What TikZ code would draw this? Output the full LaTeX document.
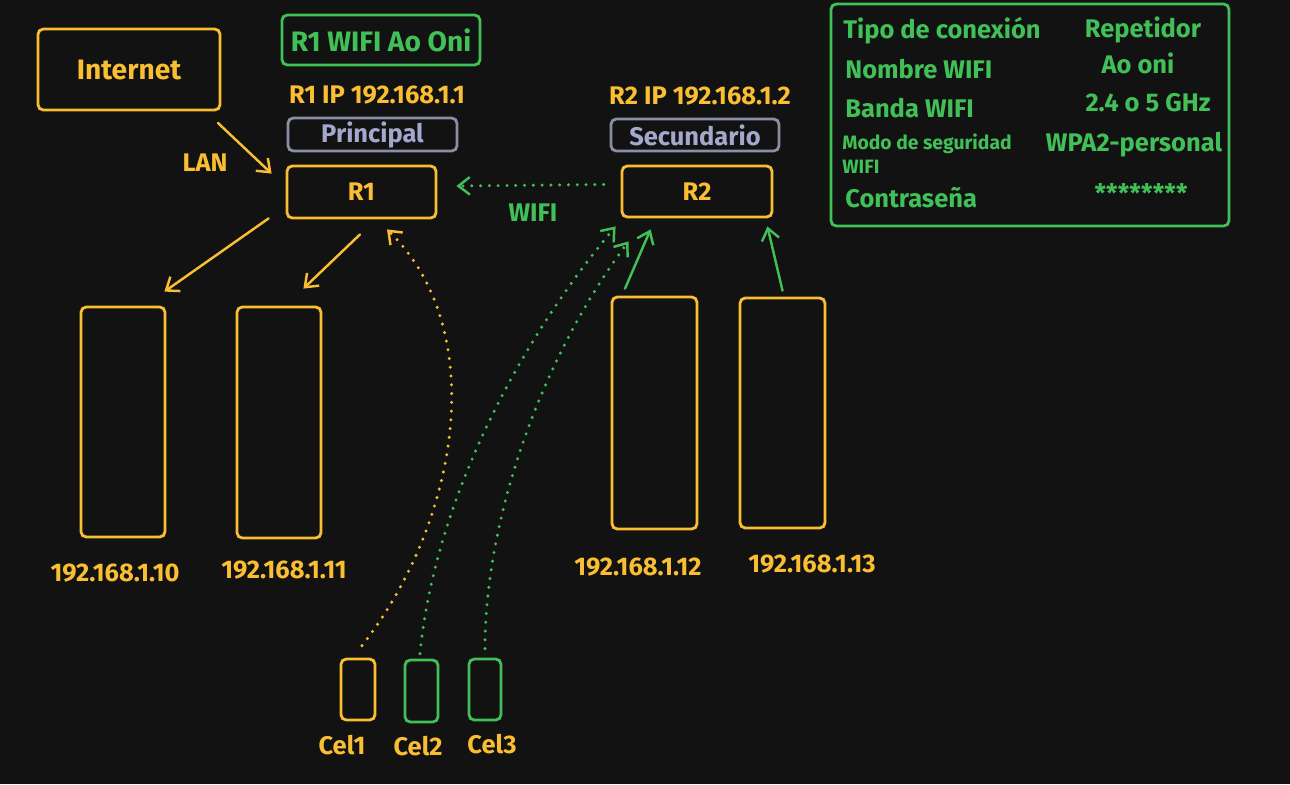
\documentclass[tikz,border=0pt]{standalone}
\usepackage{fontspec}
\setmainfont{Fira Sans}
\usetikzlibrary{arrows.meta}
\definecolor{bg}{HTML}{121212}
\definecolor{ylw}{HTML}{F9BE32}
\definecolor{grn}{HTML}{40C057}
\definecolor{gry}{HTML}{8B8FA6}
\definecolor{gtxt}{HTML}{A3A8CC}

\begin{document}
\begin{tikzpicture}[x=0.2cm,y=0.2cm]
\tikzstyle{every node}+=[inner sep=0pt,font=\fontsize{14.5}{16}\selectfont\bfseries]
\tikzstyle{ybox}=[draw=ylw,line width=1.6pt,rounded corners=3pt,text=ylw]
\tikzstyle{gbox}=[draw=grn,line width=1.6pt,rounded corners=3pt,text=grn]
\tikzstyle{tagbox}=[draw=gry,line width=1.6pt,rounded corners=3pt,text=gtxt]
\tikzstyle{arr}=[line width=1.4pt,line cap=round,-{Straight Barb[length=6.5pt,width=10pt,line width=1.4pt]}]
\tikzstyle{wifiline}=[line width=1.9pt,line cap=round,dash pattern=on 0pt off 5pt,-{Straight Barb[length=6.5pt,width=10pt,line width=1.4pt]}]
\fill [bg] (0,0) rectangle (129,-78.4);
% routers and tags
\node [ybox,minimum width=3.64cm,minimum height=1.62cm] (internet) at (12.9,-6.95) {\fontsize{16}{18}\selectfont Internet};
\node [gbox,minimum width=3.96cm,minimum height=1.0cm] (wifir1) at (38.1,-4.0) {\fontsize{16}{18}\selectfont R1 WIFI Ao Oni};
\node [text=ylw] (ipr1) at (37.7,-9.5) {R1 IP 192.168.1.1};
\node [tagbox,minimum width=3.38cm,minimum height=0.66cm] (principal) at (37.25,-13.45) {Principal};
\node [ybox,minimum width=2.98cm,minimum height=1.04cm] (r1) at (36.15,-19.2) {R1};
\node [text=ylw] (ipr2) at (70.0,-9.6) {R2 IP 192.168.1.2};
\node [tagbox,minimum width=3.36cm,minimum height=0.64cm] (secundario) at (69.5,-13.5) {Secundario};
\node [ybox,minimum width=3.0cm,minimum height=1.02cm] (r2) at (69.7,-19.15) {R2};
% wired hosts
\node [ybox,minimum width=1.68cm,minimum height=4.6cm] (pc10) at (12.3,-42.2) {};
\node [ybox,minimum width=1.68cm,minimum height=4.62cm] (pc11) at (27.9,-42.25) {};
\node [ybox,minimum width=1.7cm,minimum height=4.64cm] (pc12) at (65.45,-41.3) {};
\node [ybox,minimum width=1.7cm,minimum height=4.6cm] (pc13) at (78.25,-41.3) {};
\node [text=ylw] (ip10) at (11.5,-57.3) {192.168.1.10};
\node [text=ylw] (ip11) at (28.4,-57.0) {192.168.1.11};
\node [text=ylw] (ip12) at (63.8,-56.7) {192.168.1.12};
\node [text=ylw] (ip13) at (81.2,-56.4) {192.168.1.13};
% phones
\node [ybox,minimum width=0.68cm,minimum height=1.22cm] (cel1) at (35.8,-68.95) {};
\node [gbox,minimum width=0.66cm,minimum height=1.24cm] (cel2) at (42.15,-69.1) {};
\node [gbox,minimum width=0.64cm,minimum height=1.22cm] (cel3) at (48.5,-68.95) {};
\node [text=ylw] (cel1lbl) at (34.2,-74.5) {Cel1};
\node [text=ylw] (cel2lbl) at (41.8,-74.6) {Cel2};
\node [text=ylw] (cel3lbl) at (49.2,-74.4) {Cel3};
% settings table
\node [gbox,minimum width=7.96cm,minimum height=4.44cm] (tabla) at (103.0,-11.5) {};
\begin{scope}[every node/.append style={text=grn}]
\node [anchor=west] (tipo) at (84.3,-3.1) {Tipo de conexión};
\node [anchor=west] (nombre) at (84.5,-6.9) {Nombre WIFI};
\node [anchor=west] (banda) at (84.5,-10.8) {Banda WIFI};
\node [anchor=west,font=\fontsize{11}{12}\selectfont\bfseries] (modo) at (84.2,-14.4) {Modo de seguridad};
\node [anchor=west,font=\fontsize{11}{12}\selectfont\bfseries] (modo2) at (84.2,-16.7) {WIFI};
\node [anchor=west] (clave) at (84.5,-19.8) {Contraseña};
\node (vtipo) at (114.3,-3.0) {Repetidor};
\node (vnombre) at (113.8,-6.3) {Ao oni};
\node (vbanda) at (114.8,-10.3) {2.4 o 5 GHz};
\node (vmodo) at (113.4,-14.5) {WPA2-personal};
\node (vclave) at (114.1,-19.3) {********};
\end{scope}
% wired links
\draw [arr,ylw] ([shift={(-0.35,-1.15)}]internet.south east) -- ([shift={(-1.4,-0.9)}]r1.north west);
\node [text=ylw] (lan) at (20.5,-16.3) {LAN};
\draw [arr,ylw] ([shift={(-1.7,0.1)}]r1.south west) -- ([shift={(-0.2,1.4)}]pc10.north east);
\draw [arr,ylw] ([shift={(-0.15,-1.5)}]r1.south) -- ([shift={(-1.9,1.7)}]pc11.north east);
\draw [arr,grn] ([shift={(-2.95,0.7)}]pc12.north) -- ([shift={(3.0,-1.1)}]r2.south west);
\draw [arr,grn] ([shift={(0,0.6)}]pc13.north) -- ([shift={(-0.6,-0.8)}]r2.south east);
% wireless links
\draw [wifiline,grn] ([shift={(-1.7,0.7)}]r2.west) -- ([shift={(1.9,0.6)}]r1.east);
\node [text=grn] (wifi) at (53.3,-21.3) {WIFI};
\draw [wifiline,ylw] ([shift={(0.4,1.2)}]cel1.north) .. controls (46,-52) and (49,-33) .. ([shift={(2.55,-1.0)}]r1.south);
\draw [wifiline,grn] ([shift={(-0.15,0.5)}]cel2.north) .. controls (43.5,-50) and (52,-34) .. ([shift={(-0.5,-0.8)}]r2.south west);
\draw [wifiline,grn] ([shift={(0,0.9)}]cel3.north) .. controls (48.5,-52) and (54,-36) .. ([shift={(0.8,-2.3)}]r2.south west);
\end{tikzpicture}
\end{document}
